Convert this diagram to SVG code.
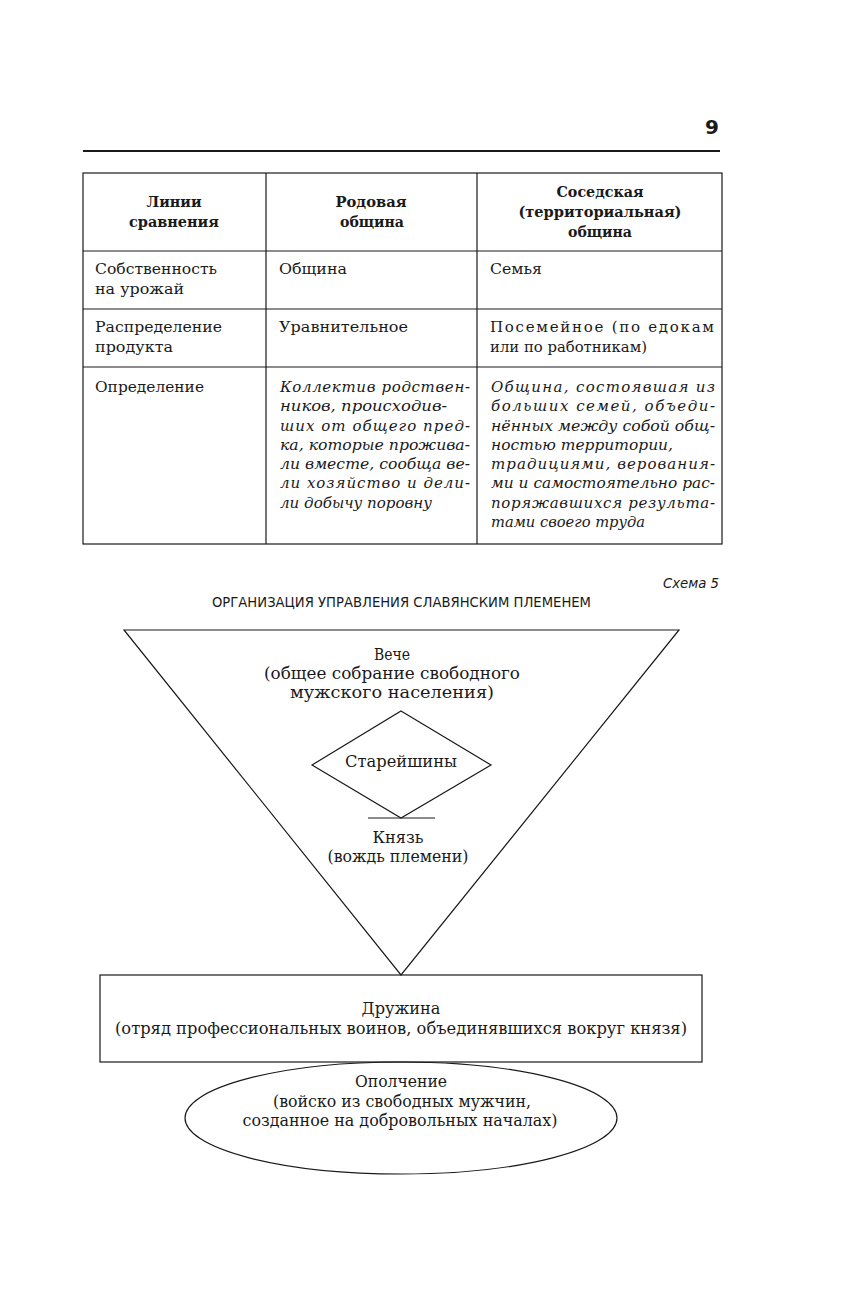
<svg xmlns="http://www.w3.org/2000/svg" width="845" height="1312" viewBox="0 0 845 1312">
<style>
.bg{fill:#fff}
.ln{stroke:#1a1a1a;stroke-width:1.2;fill:none}
.shape{stroke:#1a1a1a;stroke-width:1.2;fill:none}
.t{font-family:"DejaVu Serif","Liberation Serif",serif;font-size:15px;fill:#1a1a1a}
.tb{font-family:"DejaVu Serif","Liberation Serif",serif;font-size:15px;font-weight:bold;fill:#1a1a1a;text-anchor:middle}
.ti{font-family:"DejaVu Serif","Liberation Serif",serif;font-size:15px;font-style:italic;fill:#1a1a1a}
.d{font-family:"DejaVu Serif","Liberation Serif",serif;font-size:16px;fill:#1a1a1a;text-anchor:middle}
.s{font-family:"DejaVu Sans Condensed","Liberation Sans",sans-serif;font-size:14px;fill:#1a1a1a}
</style>
<rect class="bg" x="0" y="0" width="845" height="1312"/>
<g id="page-header">
<text x="719" y="134" text-anchor="end" style="font-family:'DejaVu Sans','Liberation Sans',sans-serif;font-size:20px;font-weight:bold;fill:#1a1a1a">9</text>
<line x1="83" y1="151" x2="720" y2="151" stroke="#1a1a1a" stroke-width="2.2"/>
</g>
<g id="table">
<rect class="ln" x="83" y="173" width="639" height="371"/>
<line class="ln" x1="266" y1="173" x2="266" y2="544"/>
<line class="ln" x1="477" y1="173" x2="477" y2="544"/>
<line class="ln" x1="83" y1="251" x2="722" y2="251"/>
<line class="ln" x1="83" y1="309" x2="722" y2="309"/>
<line class="ln" x1="83" y1="367" x2="722" y2="367"/>
<text class="tb" x="174" y="207" textLength="55" lengthAdjust="spacingAndGlyphs">Линии</text>
<text class="tb" x="174" y="227" textLength="90" lengthAdjust="spacingAndGlyphs">сравнения</text>
<text class="tb" x="371" y="207" textLength="71" lengthAdjust="spacingAndGlyphs">Родовая</text>
<text class="tb" x="372" y="227" textLength="64" lengthAdjust="spacingAndGlyphs">община</text>
<text class="tb" x="600" y="197" textLength="87" lengthAdjust="spacingAndGlyphs">Соседская</text>
<text class="tb" x="600" y="217" textLength="163" lengthAdjust="spacingAndGlyphs">(территориальная)</text>
<text class="tb" x="600" y="237" textLength="64" lengthAdjust="spacingAndGlyphs">община</text>
<text class="t" x="95" y="274" textLength="122" lengthAdjust="spacingAndGlyphs">Собственность</text>
<text class="t" x="95" y="294" textLength="89" lengthAdjust="spacingAndGlyphs">на урожай</text>
<text class="t" x="279" y="274" textLength="68" lengthAdjust="spacingAndGlyphs">Община</text>
<text class="t" x="490" y="274" textLength="52" lengthAdjust="spacingAndGlyphs">Семья</text>
<text class="t" x="95" y="332" textLength="127" lengthAdjust="spacingAndGlyphs">Распределение</text>
<text class="t" x="95" y="352" textLength="78" lengthAdjust="spacingAndGlyphs">продукта</text>
<text class="t" x="279" y="332" textLength="129" lengthAdjust="spacingAndGlyphs">Уравнительное</text>
<text class="t" x="490" y="332" textLength="224" lengthAdjust="spacing">Посемейное (по едокам</text>
<text class="t" x="490" y="352" textLength="157" lengthAdjust="spacingAndGlyphs">или по работникам)</text>
<text class="t" x="95" y="392" textLength="109" lengthAdjust="spacingAndGlyphs">Определение</text>
<g class="ti">
<text x="280" y="392" textLength="190" lengthAdjust="spacing">Коллектив родствен-</text>
<text x="280" y="411.3" textLength="167" lengthAdjust="spacingAndGlyphs">ников, происходив-</text>
<text x="280" y="430.6" textLength="190" lengthAdjust="spacing">ших от общего пред-</text>
<text x="280" y="449.9" textLength="190" lengthAdjust="spacingAndGlyphs">ка, которые прожива-</text>
<text x="280" y="469.1" textLength="190" lengthAdjust="spacingAndGlyphs">ли вместе, сообща ве-</text>
<text x="280" y="488.4" textLength="190" lengthAdjust="spacing">ли хозяйство и дели-</text>
<text x="280" y="507.7" textLength="152" lengthAdjust="spacingAndGlyphs">ли добычу поровну</text>
<text x="491" y="392" textLength="224" lengthAdjust="spacing">Община, состоявшая из</text>
<text x="491" y="411.3" textLength="224" lengthAdjust="spacing">больших семей, объеди-</text>
<text x="491" y="430.6" textLength="224" lengthAdjust="spacingAndGlyphs">нённых между собой общ-</text>
<text x="491" y="449.9" textLength="182" lengthAdjust="spacingAndGlyphs">ностью территории,</text>
<text x="491" y="469.1" textLength="224" lengthAdjust="spacing">традициями, верования-</text>
<text x="491" y="488.4" textLength="224" lengthAdjust="spacingAndGlyphs">ми и самостоятельно рас-</text>
<text x="491" y="507.7" textLength="224" lengthAdjust="spacing">поряжавшихся результа-</text>
<text x="491" y="527" textLength="154" lengthAdjust="spacingAndGlyphs">тами своего труда</text>
</g>
</g>
<g id="caption">
<text class="s" x="719" y="588" text-anchor="end" font-style="italic" textLength="56" lengthAdjust="spacingAndGlyphs">Схема 5</text>
<text class="s" x="212" y="607" textLength="379" lengthAdjust="spacingAndGlyphs">ОРГАНИЗАЦИЯ УПРАВЛЕНИЯ СЛАВЯНСКИМ ПЛЕМЕНЕМ</text>
</g>
<g id="veche">
<polygon class="shape" points="124,630 679,630 401,975"/>
<text class="d" x="392" y="660" textLength="36" lengthAdjust="spacingAndGlyphs">Вече</text>
<text class="d" x="392" y="679" textLength="256" lengthAdjust="spacingAndGlyphs">(общее собрание свободного</text>
<text class="d" x="392" y="698" textLength="204" lengthAdjust="spacingAndGlyphs">мужского населения)</text>
</g>
<g id="stareishiny">
<polygon class="shape" points="401,711 491,765 401,818 312,765"/>
<text class="d" x="401" y="767" textLength="112" lengthAdjust="spacingAndGlyphs">Старейшины</text>
</g>
<g id="connectors">
<line class="ln" x1="368" y1="818" x2="435" y2="818"/>
</g>
<g id="knyaz">
<text class="d" x="398" y="843" textLength="51" lengthAdjust="spacingAndGlyphs">Князь</text>
<text class="d" x="398" y="862" textLength="141" lengthAdjust="spacingAndGlyphs">(вождь племени)</text>
</g>
<g id="druzhina">
<rect class="shape" x="100" y="975" width="602" height="87"/>
<text class="d" x="401" y="1014" textLength="79" lengthAdjust="spacingAndGlyphs">Дружина</text>
<text class="d" x="401" y="1034" textLength="572" lengthAdjust="spacingAndGlyphs">(отряд профессиональных воинов, объединявшихся вокруг князя)</text>
</g>
<g id="opolchenie">
<ellipse class="shape" cx="401" cy="1118" rx="216" ry="56"/>
<text class="d" x="401" y="1087" textLength="92" lengthAdjust="spacingAndGlyphs">Ополчение</text>
<text class="d" x="402" y="1107" textLength="258" lengthAdjust="spacingAndGlyphs">(войско из свободных мужчин,</text>
<text class="d" x="400" y="1126" textLength="315" lengthAdjust="spacingAndGlyphs">созданное на добровольных началах)</text>
</g>
</svg>
